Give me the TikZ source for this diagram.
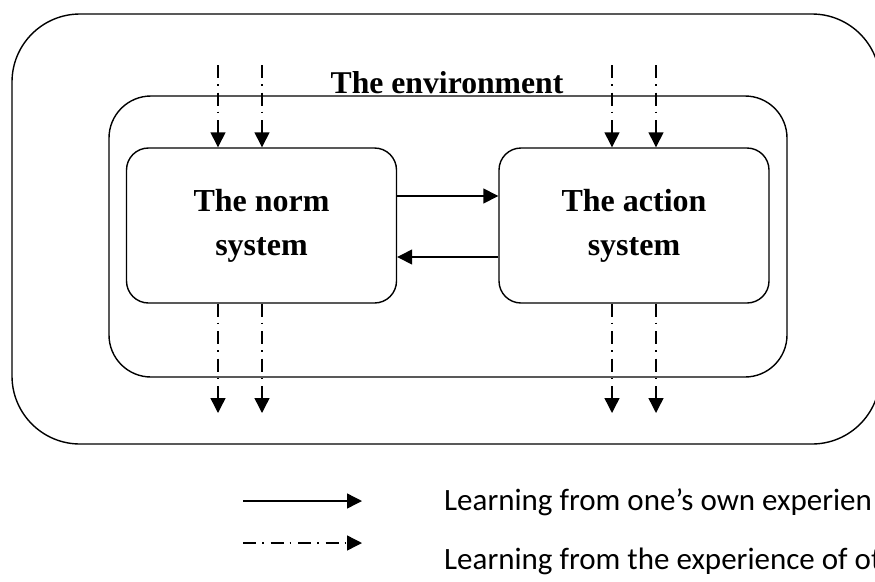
\documentclass[tikz,border=0pt]{standalone}
\usepackage{fontspec}
\setmainfont{Liberation Serif}
\newfontfamily\legendfont{Carlito}
\usetikzlibrary{arrows.meta}

\begin{document}
\begin{tikzpicture}[x=1pt,y=-1pt,
  frame/.style={draw, line width=1.4pt, rounded corners=#1, inner sep=0pt},
  sysbox/.style={draw, line width=1.4pt, rounded corners=22pt,
    minimum width=270pt, minimum height=155pt, align=center, inner sep=0pt,
    font=\fontsize{32}{44}\selectfont\bfseries},
  flow/.style={line width=1.4pt, -{Triangle[length=15pt,width=15pt]}},
  others/.style={flow, dash pattern=on 13pt off 6pt on 1.5pt off 7pt},
  legendtext/.style={anchor=base west, inner sep=0pt,
    font=\legendfont\fontsize{31}{31}\selectfont}
]
\useasboundingbox (0,0) rectangle (875,581);

% outer world and the environment
\node[frame=68pt, minimum width=868pt, minimum height=430pt] (world) at (446,229) {};
\node[frame=42pt, minimum width=678pt, minimum height=281pt] (env) at (448,236.5) {};
\node[anchor=base, inner sep=0pt, font=\fontsize{31.7}{38}\selectfont\bfseries]
  (envlabel) at (447,93) {The environment};

% the two systems
\node[sysbox] (norm) at (261.5,225.5) {The norm\\system};
\node[sysbox] (action) at (634,225.5) {The action\\system};

% exchange between the systems
\coordinate (upper) at (0,196);
\coordinate (lower) at (0,257);
\draw[flow] (norm.east |- upper) -- (action.west |- upper);
\draw[flow] (action.west |- lower) -- (norm.east |- lower);

% learning from others: inflow at the top, outflow at the bottom
\foreach \x [count=\i] in {218,262,612,656} {
  \coordinate (in\i) at (\x,65);
  \coordinate (out\i) at (\x,413);
}
\draw[others] (in1) -- (in1 |- norm.north);
\draw[others] (in2) -- (in2 |- norm.north);
\draw[others] (in3) -- (in3 |- action.north);
\draw[others] (in4) -- (in4 |- action.north);
\draw[others] (out1 |- norm.south) -- (out1);
\draw[others] (out2 |- norm.south) -- (out2);
\draw[others] (out3 |- action.south) -- (out3);
\draw[others] (out4 |- action.south) -- (out4);

% legend
\coordinate (ownA) at (243,501);
\coordinate (ownB) at (362,501);
\coordinate (othA) at (243,543);
\coordinate (othB) at (362,543);
\draw[flow] (ownA) -- (ownB);
\draw[others] (othA) -- (othB);
\node[legendtext] (ownlabel) at (444,510) {Learning from one’s own experien};
\node[legendtext] (othlabel) at (444,569) {Learning from the experience of ot};
\end{tikzpicture}
\end{document}
